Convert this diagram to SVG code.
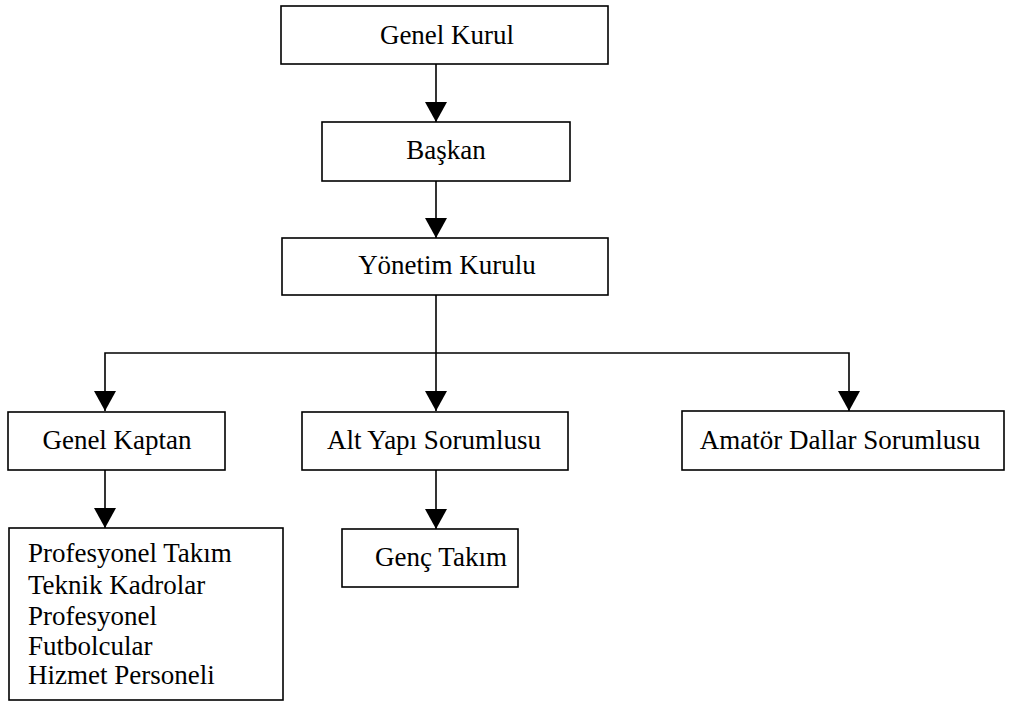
<svg xmlns="http://www.w3.org/2000/svg" width="1014" height="702" viewBox="0 0 1014 702">
<style>
.box{fill:#fff;stroke:#000;stroke-width:1.6}
text{font-size:27px;fill:#000}
.c{text-anchor:middle}
.conn{fill:none;stroke:#000;stroke-width:1.6}
</style>
<defs>
<marker id="ah" markerUnits="userSpaceOnUse" markerWidth="20" markerHeight="22" refX="20" refY="11" orient="auto" viewBox="0 0 20 22">
<path d="M0,0 L20,11 L0,22 Z" fill="#000"/>
</marker>
</defs>
<rect width="1014" height="702" fill="#fff"/>
<g id="connectors">
<path class="conn" d="M436,64 V122" marker-end="url(#ah)"/>
<path class="conn" d="M436,181 V238" marker-end="url(#ah)"/>
<path class="conn" d="M436,295 V411" marker-end="url(#ah)"/>
<path class="conn" d="M436,353 H105 V411" marker-end="url(#ah)"/>
<path class="conn" d="M436,353 H849 V411" marker-end="url(#ah)"/>
<path class="conn" d="M105,470 V528" marker-end="url(#ah)"/>
<path class="conn" d="M436,470 V529" marker-end="url(#ah)"/>
</g>
<g font-family="'Liberation Serif', 'Times New Roman', 'DejaVu Serif', serif">
<g id="genel-kurul"><rect class="box" x="281" y="6" width="327" height="58"/><text class="c" x="447" y="44">Genel Kurul</text></g>
<g id="baskan"><rect class="box" x="322" y="122" width="248" height="59"/><text class="c" x="446" y="159">Başkan</text></g>
<g id="yonetim-kurulu"><rect class="box" x="282" y="238" width="326" height="57"/><text class="c" x="447" y="274">Yönetim Kurulu</text></g>
<g id="genel-kaptan"><rect class="box" x="8" y="412" width="217" height="58"/><text class="c" x="117" y="449">Genel Kaptan</text></g>
<g id="alt-yapi"><rect class="box" x="302" y="412" width="266" height="58"/><text class="c" x="434" y="449">Alt Yapı Sorumlusu</text></g>
<g id="amator"><rect class="box" x="682" y="411" width="322" height="59"/><text class="c" x="840" y="449">Amatör Dallar Sorumlusu</text></g>
<g id="profesyonel"><rect class="box" x="9" y="528" width="274" height="172"/>
<text x="28" y="562">Profesyonel Takım</text>
<text x="28" y="594">Teknik Kadrolar</text>
<text x="28" y="625">Profesyonel</text>
<text x="28" y="655">Futbolcular</text>
<text x="28" y="684">Hizmet Personeli</text>
</g>
<g id="genc-takim"><rect class="box" x="342" y="529" width="176" height="58"/><text class="c" x="441" y="566">Genç Takım</text></g>
</g>
</svg>
